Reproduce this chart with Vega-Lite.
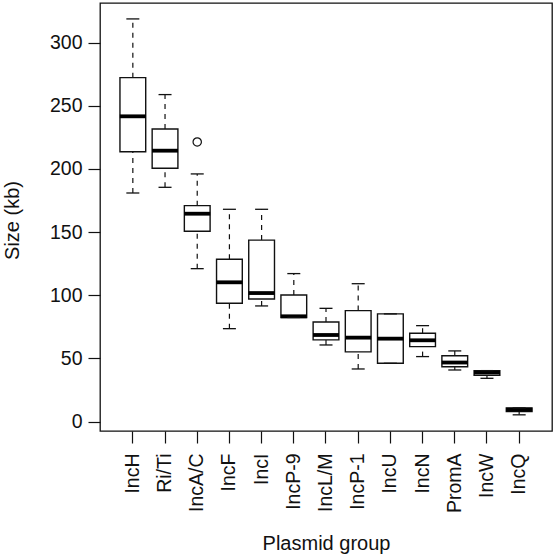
{
  "$schema": "https://vega.github.io/schema/vega-lite/v6.json",
  "width": 452,
  "height": 428,
  "autosize": "none",
  "padding": {"left": 100, "top": 3, "right": 3, "bottom": 126},
  "background": "white",
  "config": {
    "view": {"stroke": "#111", "strokeWidth": 1.3},
    "font": "Liberation Sans",
    "axis": {"domain": false, "grid": false, "tickColor": "#111", "tickWidth": 1.2, "tickSize": 12, "labelColor": "#111", "titleColor": "#111", "labelFont": "Liberation Sans", "titleFont": "Liberation Sans", "labelFontSize": 19.5, "titleFontSize": 20, "titleFontWeight": "normal"}
  },
  "datasets": {
    "boxes": [
      {"group": "IncH", "lower": 181, "q1": 213.7, "median": 241.7, "q3": 272.3, "upper": 318.8},
      {"group": "Ri/Ti", "lower": 185.5, "q1": 200.6, "median": 214.5, "q3": 231.7, "upper": 258.9},
      {"group": "IncA/C", "lower": 121.1, "q1": 150.7, "median": 164.6, "q3": 171.0, "upper": 196.1},
      {"group": "IncF", "lower": 73.6, "q1": 93.7, "median": 110.3, "q3": 128.5, "upper": 168.1},
      {"group": "IncI", "lower": 91.6, "q1": 97.1, "median": 101.8, "q3": 143.7, "upper": 168.1},
      {"group": "IncP-9", "lower": 82.5, "q1": 82.5, "median": 83.4, "q3": 100.2, "upper": 117.2},
      {"group": "IncL/M", "lower": 60.7, "q1": 64.7, "median": 68.6, "q3": 78.9, "upper": 89.7},
      {"group": "IncP-1", "lower": 41.7, "q1": 55.2, "median": 66.5, "q3": 87.9, "upper": 109.2},
      {"group": "IncU", "lower": 46.2, "q1": 46.2, "median": 65.7, "q3": 85.3, "upper": 85.3},
      {"group": "IncN", "lower": 51.5, "q1": 59.4, "median": 64.4, "q3": 70.0, "upper": 76.0},
      {"group": "PromA", "lower": 40.9, "q1": 43.5, "median": 46.8, "q3": 52.2, "upper": 56.0},
      {"group": "IncW", "lower": 34.3, "q1": 36.6, "median": 38.8, "q3": 40.4, "upper": 40.4},
      {"group": "IncQ", "lower": 5.4, "q1": 7.9, "median": 9.5, "q3": 10.8, "upper": 10.8}
    ],
    "outliers": [
      {"group": "IncA/C", "value": 221.4}
    ]
  },
  "data": {"name": "boxes"},
  "encoding": {
    "x": {
      "field": "group", "type": "nominal",
      "scale": {"domain": ["IncH", "Ri/Ti", "IncA/C", "IncF", "IncI", "IncP-9", "IncL/M", "IncP-1", "IncU", "IncN", "PromA", "IncW", "IncQ"], "paddingInner": 0.2, "paddingOuter": 0.62},
      "axis": {"title": "Plasmid group", "labelAngle": 270, "labelPadding": 10, "titleX": 226, "titleY": 118, "titleBaseline": "alphabetic", "titleAlign": "center"}
    }
  },
  "layer": [
    {
      "mark": {"type": "rule", "color": "#111", "strokeWidth": 1.2, "strokeDash": [5, 5]},
      "encoding": {
        "y": {"field": "lower", "type": "quantitative", "scale": {"domain": [-7.4, 331.4], "nice": false, "zero": false},
          "axis": {"title": "Size (kb)", "values": [0, 50, 100, 150, 200, 250, 300], "labelPadding": 6, "titleAngle": -90, "titleX": -88, "titleY": 217, "titleBaseline": "middle", "titleAlign": "center"}},
        "y2": {"field": "q1"}
      }
    },
    {
      "mark": {"type": "rule", "color": "#111", "strokeWidth": 1.2, "strokeDash": [5, 5]},
      "encoding": {
        "y": {"field": "q3", "type": "quantitative"},
        "y2": {"field": "upper"}
      }
    },
    {
      "mark": {"type": "bar", "fill": "white", "stroke": "#111", "strokeWidth": 1.4},
      "encoding": {
        "y": {"field": "q1", "type": "quantitative"},
        "y2": {"field": "q3"}
      }
    },
    {
      "mark": {"type": "tick", "color": "#000", "size": 26, "thickness": 3.8, "opacity": 1},
      "encoding": {
        "y": {"field": "median", "type": "quantitative"}
      }
    },
    {
      "mark": {"type": "tick", "color": "#111", "size": 13, "thickness": 1.3, "opacity": 1},
      "encoding": {
        "y": {"field": "lower", "type": "quantitative"}
      }
    },
    {
      "mark": {"type": "tick", "color": "#111", "size": 13, "thickness": 1.3, "opacity": 1},
      "encoding": {
        "y": {"field": "upper", "type": "quantitative"}
      }
    },
    {
      "data": {"name": "outliers"},
      "mark": {"type": "point", "shape": "circle", "filled": false, "color": "#111", "size": 70, "strokeWidth": 1.2, "opacity": 1},
      "encoding": {
        "y": {"field": "value", "type": "quantitative"}
      }
    }
  ]
}
